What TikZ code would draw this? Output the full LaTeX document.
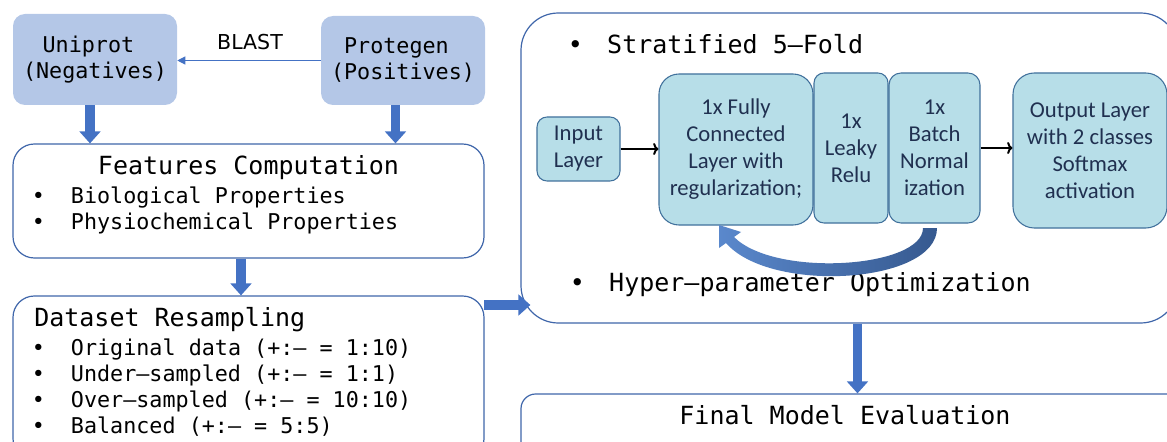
\documentclass[tikz,border=0pt]{standalone}
\usepackage{fontspec}
\setmonofont{DejaVu Sans Mono}
\setsansfont{DejaVu Sans}
\newfontfamily\calib{Carlito}
\usetikzlibrary{arrows.meta,calc}

\definecolor{srcfill}{HTML}{B4C7E7}
\definecolor{panelline}{HTML}{3F66AA}
\definecolor{arrowblue}{HTML}{4472C4}
\definecolor{layerfill}{HTML}{B7DEE8}
\definecolor{layerline}{HTML}{41719C}
\definecolor{layertext}{HTML}{203050}
\definecolor{loopdark}{HTML}{36598F}
\definecolor{looplight}{HTML}{5A88CC}

\newcommand\mtitle{\ttfamily\fontsize{18.75}{22}\selectfont}
\newcommand\mitem{\ttfamily\fontsize{16.3}{19.5}\selectfont}
\newcommand\bitem{\makebox[1.806em][l]{•}}
\newcommand\tbullet{\makebox[29.6pt][l]{•}}

\begin{document}
\begin{tikzpicture}[x=0.75pt,y=-0.75pt,
  srcbox/.style={fill=srcfill, draw=none, rounded corners=9pt, inner sep=0,
    align=center, font=\mitem},
  panel/.style={draw=panelline, line width=0.9pt, fill=white,
    rounded corners=16pt, inner sep=0},
  layer/.style={draw=layerline, line width=0.8pt, fill=layerfill,
    text=layertext, inner sep=0, align=center,
    font=\calib\fontsize{17}{20.25}\selectfont},
  ttl/.style={font=\mtitle, inner sep=0},
  items/.style={font=\mitem, inner sep=0, align=left, anchor=west},
  bigarrow/.style={draw=arrowblue, line width=7pt,
    -{Triangle[length=9pt,width=15.5pt]}},
  blastarrow/.style={draw=arrowblue, line width=0.8pt,
    -{Triangle[length=6pt,width=6pt]}},
  flowarrow/.style={draw=black, line width=1.5pt,
    -{To[length=4pt,width=9pt]}}]

\useasboundingbox (0,0) rectangle (1167,442);

% data sources
\node[srcbox, minimum width=123pt, minimum height=68.25pt] (uni) at (95,59.5)
  {Uniprot\phantom{x}\\(Negatives)};
\node[srcbox, minimum width=123pt, minimum height=66.75pt] (pro) at (403,60.5)
  {Protegen\phantom{x}\\(Positives)};
\draw[blastarrow] (pro.west) -- (pro.west -| uni.east);
\node[font=\sffamily\fontsize{15.4}{18}\selectfont, inner sep=0] (blast)
  at (250,42) {BLAST};

% feature computation
\node[panel, minimum width=353.25pt, minimum height=85.5pt] (feat)
  at (248.5,201) {};
\node[ttl] (feattitle) at (248.5,168) {Features Computation};
\node[items] (featlist) at (31.5,210)
  {\bitem Biological Properties\\\bitem Physiochemical Properties};

\draw[bigarrow] ($(uni.south)+(-5,0)$) -- ($(uni.south |- feat.north)+(-5,0)$);
\draw[bigarrow] ($(pro.south)+(-7.5,0)$) -- ($(pro.south |- feat.north)+(-7.5,0)$);

% resampling
\node[panel, minimum width=353.25pt, minimum height=123pt] (ds)
  at (248.5,378) {};
\node[ttl, anchor=west] (dstitle) at (34,320) {Dataset Resampling};
\node[items] (dslist) at (31.5,387.5)
  {\bitem Original data (+:– = 1:10)\\
   \bitem Under–sampled (+:– = 1:1)\\
   \bitem Over–sampled (+:– = 10:10)\\
   \bitem Balanced (+:– = 5:5)};

\draw[bigarrow] ($(feat.south)+(-7.5,0)$) -- ($(feat.south |- ds.north)+(-7.5,0)$);

% cross-validation panel
\node[panel, rounded corners=28pt, minimum width=492.75pt, minimum height=232.5pt]
  (cv) at (849.5,168) {};
\coordinate (dsout) at (484,305);
\draw[bigarrow] (dsout) -- ($(dsout -| cv.west)+(10,0)$);

\node[ttl, anchor=west] (strat) at (567.5,44) {\tbullet Stratified 5–Fold};
\node[ttl, anchor=west] (hyper) at (569.5,285)
  {\tbullet Hyper–parameter Optimization};

% network layers
\node[layer, rounded corners=7.5pt, minimum width=62.25pt, minimum height=48pt]
  (inp) at (578.5,149) {Input\\Layer};
\node[layer, rounded corners=15pt, minimum width=115.5pt, minimum height=113.25pt]
  (fc) at (736,149.5) {1x Fully\\Connected\\Layer with\\regularization;};
\node[layer, rounded corners=7.5pt, minimum width=55.5pt, minimum height=112.5pt]
  (lr) at (851,148) {1x\\Leaky\\Relu};
\node[layer, rounded corners=9pt, minimum width=68.25pt, minimum height=112.5pt]
  (bn) at (934.5,148) {1x\\Batch\\Normal\\ization};
\node[layer, rounded corners=16pt, minimum width=115.5pt, minimum height=116.25pt]
  (out) at (1090,150.5) {Output Layer\\with 2 classes\\Softmax\\activation};

\draw[flowarrow] (inp.east) -- (inp.east -| fc.west);
\draw[flowarrow] (bn.east) -- (bn.east -| out.west);

% optimisation loop back to the dense layer
\shade[left color=looplight, right color=loopdark]
  (719,225) -- (719,248) -- (726,243)
  .. controls (770,294) and (937,284) .. (937,228)
  -- (923,228)
  .. controls (923,268) and (775,278) .. (734,237)
  -- (741,232) -- cycle;

% evaluation
\node[panel, rounded corners=11pt, minimum width=501.75pt, minimum height=57pt]
  (fin) at (855.5,432) {};
\node[ttl] (fintext) at (845,415) {Final Model Evaluation};
\draw[bigarrow] ($(cv.south)+(8,0)$) -- ($(cv.south |- fin.north)+(8,0)$);

\end{tikzpicture}
\end{document}
